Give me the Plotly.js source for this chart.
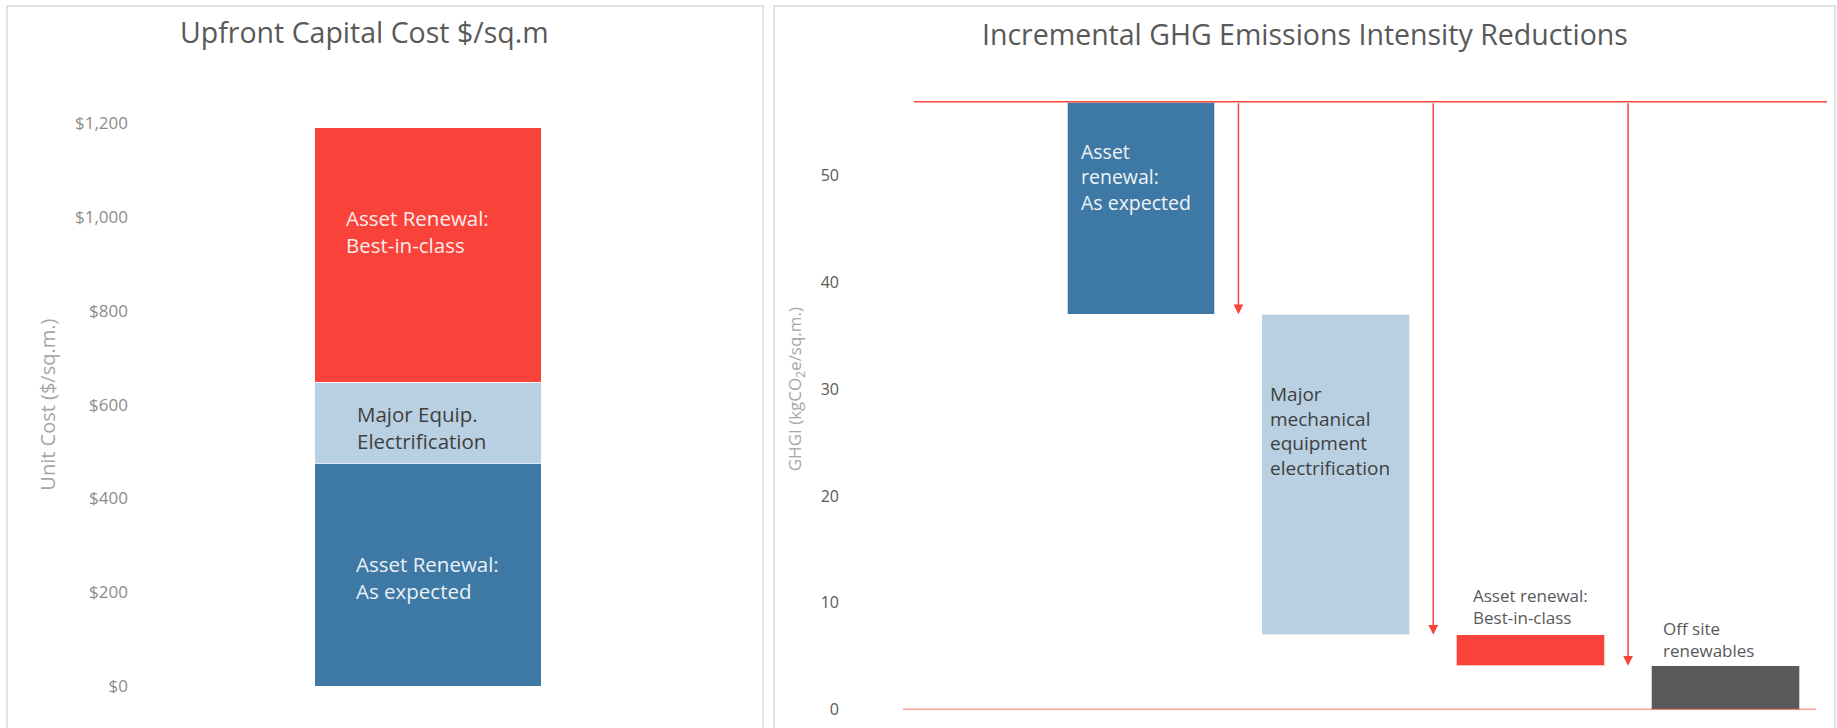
<!DOCTYPE html>
<html><head><meta charset="utf-8">
<script src="https://cdn.plot.ly/plotly-3.0.1.min.js"></script>
<style>html,body{margin:0;padding:0;background:#fff;}#chart{width:1837px;height:728px;}</style>
</head><body><div id="chart"></div>
<script>
// ---------- Left chart: Upfront Capital Cost ----------
const costSegments = ['Asset Renewal:<br>As expected', 'Major Equip.<br>Electrification', 'Asset Renewal:<br>Best-in-class'];
const costValues = [475, 173, 542];
const costTickVals = [0, 200, 400, 600, 800, 1000, 1200];
const costTickText = ['$0', '$200', '$400', '$600', '$800', '$1,000', '$1,200'];

// ---------- Right chart: Incremental GHG reductions ----------
const ghgCategories = ['Asset renewal: As expected', 'Major mechanical equipment electrification', 'Asset renewal: Best-in-class', 'Off site renewables'];
const ghgLabels = ['Asset<br>renewal:<br>As expected', 'Major<br>mechanical<br>equipment<br>electrification', 'Asset renewal:<br>Best-in-class', 'Off site<br>renewables'];
const ghgStart = 56.9;
const ghgReductions = [19.9, 30.0, 2.9, 4.1];
const ghgTickVals = [0, 10, 20, 30, 40, 50];

const W = 1837, H = 728;
const px = x => x / W;
const py = y => 1 - y / H;

const RED = '#F9423A', BLUE = '#3E79A5', LIGHT = '#B8D0E2', GRAY = '#595959';
const costColors = [BLUE, LIGHT, RED];
const ghgColors = [BLUE, LIGHT, RED, GRAY];
const FONT = 'Open Sans, sans-serif';

// levels after each reduction
const ghgAfter = [];
let lvl = ghgStart;
ghgReductions.forEach(r => { lvl = lvl - r; ghgAfter.push(Math.max(0, +lvl.toFixed(3))); });

const traces = [];
costValues.forEach((v, i) => {
  traces.push({
    type: 'bar', x: [0], y: [v], name: costSegments[i].replace('<br>', ' '),
    width: 0.6, marker: {color: costColors[i], line: {color: 'rgba(255,255,255,0.6)', width: 1}},
    xaxis: 'x', yaxis: 'y', hoverinfo: 'y+name', showlegend: false
  });
});
traces.push({
  type: 'bar', x: [0, 1, 2, 3], y: ghgReductions, base: ghgAfter,
  hovertext: ghgCategories, hoverinfo: 'text+y',
  width: 0.762, marker: {color: ghgColors, line: {color: 'rgba(255,255,255,0.7)', width: 1.5}},
  xaxis: 'x2', yaxis: 'y2', showlegend: false
});

const BARW_L = 0.6, BARW_R = 0.762;
const annotations = [];
// titles
annotations.push({xref: 'paper', yref: 'paper', x: px(364.5), y: py(32), xanchor: 'center', yanchor: 'middle',
  text: 'Upfront Capital Cost $/sq.m', showarrow: false, font: {family: FONT, size: 28.5, color: '#595959'}});
annotations.push({xref: 'paper', yref: 'paper', x: px(1305), y: py(34), xanchor: 'center', yanchor: 'middle',
  text: 'Incremental GHG Emissions Intensity Reductions', showarrow: false, font: {family: FONT, size: 28.5, color: '#595959'}});

// left bar labels
const leftLabelStyle = [
  {color: '#EAF0F5', xshift: 39, yshift: -3},
  {color: '#404040', xshift: 40, yshift: -5},
  {color: '#FDECEB', xshift: 29, yshift: 23}
];
let cum = 0;
costValues.forEach((v, i) => {
  const mid = cum + v / 2; cum += v;
  annotations.push({xref: 'x', yref: 'y', x: -BARW_L / 2, y: mid, xanchor: 'left', yanchor: 'middle', align: 'left',
    xshift: leftLabelStyle[i].xshift, yshift: leftLabelStyle[i].yshift, text: costSegments[i], showarrow: false,
    font: {family: FONT, size: 20.5, color: leftLabelStyle[i].color}});
});

// right bar labels
const rightLabelStyle = [
  {y: 49.9, xshift: 12, color: '#EEF3F7', size: 19.5},
  {y: 26.1, xshift: 6, color: '#404040', size: 19},
  {y: 9.6, xshift: 15, color: '#595959', size: 17},
  {y: 6.6, xshift: 10, color: '#595959', size: 17}
];
ghgLabels.forEach((t, i) => {
  const s = rightLabelStyle[i];
  annotations.push({xref: 'x2', yref: 'y2', x: i - BARW_R / 2, y: s.y, xanchor: 'left', yanchor: 'middle', align: 'left',
    xshift: s.xshift, text: t, showarrow: false, font: {family: FONT, size: s.size, color: s.color}});
});

// arrows between bars: from start level down to the level after each step
for (let i = 0; i < 3; i++) {
  annotations.push({xref: 'x2', yref: 'y2', axref: 'x2', ayref: 'y2', x: i + 0.5, y: ghgAfter[i], ax: i + 0.5, ay: ghgStart,
    text: '', showarrow: true, arrowhead: 2, arrowsize: 1.3, arrowwidth: 1.5, arrowcolor: RED, standoff: 0, startstandoff: 0});
}

const shapes = [
  // panel borders
  {type: 'rect', xref: 'paper', yref: 'paper', x0: px(7), x1: px(763), y0: -0.05, y1: py(6), line: {color: '#D9D9D9', width: 1.5}},
  {type: 'rect', xref: 'paper', yref: 'paper', x0: px(774), x1: px(1835), y0: -0.05, y1: py(6), line: {color: '#D9D9D9', width: 1.5}},
  // start level and zero lines
  {type: 'line', xref: 'x2', yref: 'y2', x0: -1.165, x1: 3.521, y0: ghgStart, y1: ghgStart, line: {color: RED, width: 1.6}},
  {type: 'line', xref: 'x2', yref: 'y2', x0: -1.222, x1: 3.465, y0: 0, y1: 0, line: {color: RED, width: 1.6}}
];

const layout = {
  width: W, height: H, margin: {l: 0, r: 0, t: 0, b: 0},
  paper_bgcolor: '#fff', plot_bgcolor: 'rgba(0,0,0,0)',
  barmode: 'stack', showlegend: false,
  font: {family: FONT},
  xaxis: {domain: [px(133), px(740)], range: [-0.7815, 0.8265], visible: false, fixedrange: true},
  yaxis: {domain: [py(686.3), py(123)], range: [0, 1200], tickvals: costTickVals, ticktext: costTickText,
    showgrid: false, zeroline: false, showline: false, ticks: '', ticklabelstandoff: 4,
    tickfont: {family: FONT, size: 17, color: '#8C8C8C'},
    title: {text: 'Unit Cost ($/sq.m.)', font: {family: FONT, size: 20, color: '#A6A6A6'}, standoff: 13}},
  xaxis2: {domain: [px(842), px(1830)], range: [-1.5347, 3.5364], visible: false, anchor: 'y2', fixedrange: true},
  yaxis2: {domain: [py(709.5), py(68.7)], range: [0, 60], anchor: 'x2', tickvals: ghgTickVals,
    showgrid: false, zeroline: false, showline: false, ticks: '', ticklabelstandoff: 2,
    tickfont: {family: FONT, size: 16, color: '#595959'},
    title: {text: 'GHGI (kgCO<sub>2</sub>e/sq.m.)', font: {family: FONT, size: 17, color: '#A6A6A6'}, standoff: 14}},
  annotations: annotations,
  shapes: shapes
};

Plotly.newPlot('chart', traces, layout, {displayModeBar: false, staticPlot: true});
</script>
</body></html>
